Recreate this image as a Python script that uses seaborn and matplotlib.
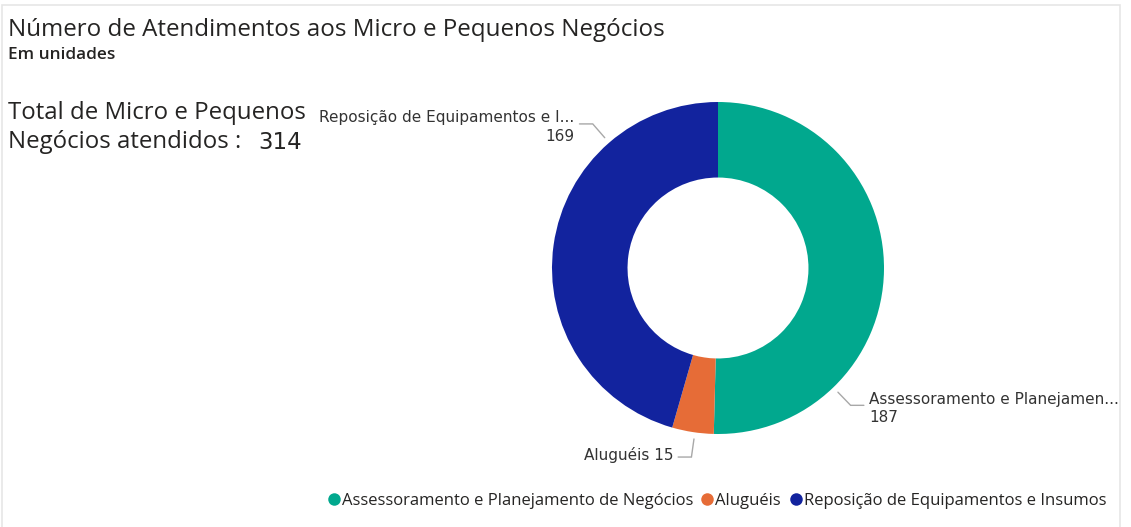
import numpy as np
import matplotlib
matplotlib.use("Agg")
import matplotlib.pyplot as plt
from matplotlib.lines import Line2D
from matplotlib.patches import Rectangle
import seaborn as sns

# Atendimentos por tipo de serviço
categories = ["Assessoramento e Planejamento de Negócios", "Aluguéis",
              "Reposição de Equipamentos e Insumos"]
short_labels = ["Assessoramento e Planejamen...", "Aluguéis",
                "Reposição de Equipamentos e I..."]
values = [187, 15, 169]
total_negocios = 314

colors = ["#01A88E", "#E66C37", "#12239E"]
# posição angular (graus) de cada rótulo externo
label_angles = [-46, -98, 131]

sns.set_theme(style="white")
plt.rcParams["font.family"] = ["DejaVu Sans"]

W, H = 1131, 527
fig = plt.figure(figsize=(W / 100, H / 100), dpi=100)
fig.patch.set_facecolor("white")

# moldura do painel
fig.patches.append(Rectangle((2 / W, -0.01), 1118 / W, 1 - 5 / H + 0.01,
                             transform=fig.transFigure, fill=False,
                             edgecolor="#E6E6E6", lw=1.2))

cx, cy, r = 718, 268, 166
ax = fig.add_axes([(cx - r) / W, (H - cy - r) / H, 2 * r / W, 2 * r / H])
wedges, _ = ax.pie(values, colors=colors, startangle=90, counterclock=False,
                   radius=1.0, wedgeprops=dict(width=0.455, edgecolor="none"))
ax.set_xlim(-1, 1)
ax.set_ylim(-1, 1)
ax.set_aspect("equal")
ax.axis("off")

# rótulos com linhas de chamada
for lab, val, ang in zip(short_labels, values, label_angles):
    t = np.deg2rad(ang)
    p1 = (1.04 * np.cos(t), 1.04 * np.sin(t))
    p2 = (1.15 * np.cos(t), 1.15 * np.sin(t))
    side = 1 if np.cos(t) >= 0 else -1
    p3 = (p2[0] + side * 0.08, p2[1])
    ax.plot([p1[0], p2[0], p3[0]], [p1[1], p2[1], p3[1]], color="#A8A8A8",
            lw=1.0, clip_on=False, solid_joinstyle="miter")
    ha = "left" if side > 0 else "right"
    tx = p3[0] + side * 0.03
    if lab == "Aluguéis":
        ax.text(tx, p3[1] + 0.015, f"{lab} {val}", ha=ha, va="center",
                fontsize=11, color="#333333", clip_on=False)
    else:
        ax.text(tx, p3[1] - 0.02, f"{lab}\n{val}", ha=ha, va="center",
                fontsize=11, color="#333333", clip_on=False, linespacing=1.3,
                multialignment=ha)

seg = ["Open Sans", "DejaVu Sans"]
fig.text(8 / W, 1 - 30 / H, "Número de Atendimentos aos Micro e Pequenos Negócios",
         fontsize=17.4, family=seg, color="#252423", va="center", ha="left")
fig.text(8 / W, 1 - 55 / H, "Em unidades", fontsize=12.4, family=seg,
         color="#252423", va="center", ha="left", fontweight="semibold")
fig.text(8 / W, 1 - 113 / H, "Total de Micro e Pequenos", fontsize=17.3,
         family=seg, color="#252423", va="center", ha="left")
fig.text(8 / W, 1 - 142 / H, "Negócios atendidos : ", fontsize=17.3,
         family=seg, color="#252423", va="center", ha="left")
fig.text(258 / W, 1 - 142 / H, f"{total_negocios}", fontsize=16.5,
         color="#252423", va="center", ha="left")

handles = [Line2D([0], [0], marker="o", color="none", markerfacecolor=c,
                  markeredgecolor="none", markersize=9) for c in colors]
fig.legend(handles, categories, loc="center right",
           bbox_to_anchor=(1106 / W, 1 - 501 / H), ncol=3, frameon=False,
           handlelength=0.55, handletextpad=0.2, columnspacing=0.6,
           prop=dict(family=seg, size=12), labelcolor="#252423",
           borderaxespad=0, borderpad=0)

fig.savefig("out.png", dpi=100, facecolor="white")
